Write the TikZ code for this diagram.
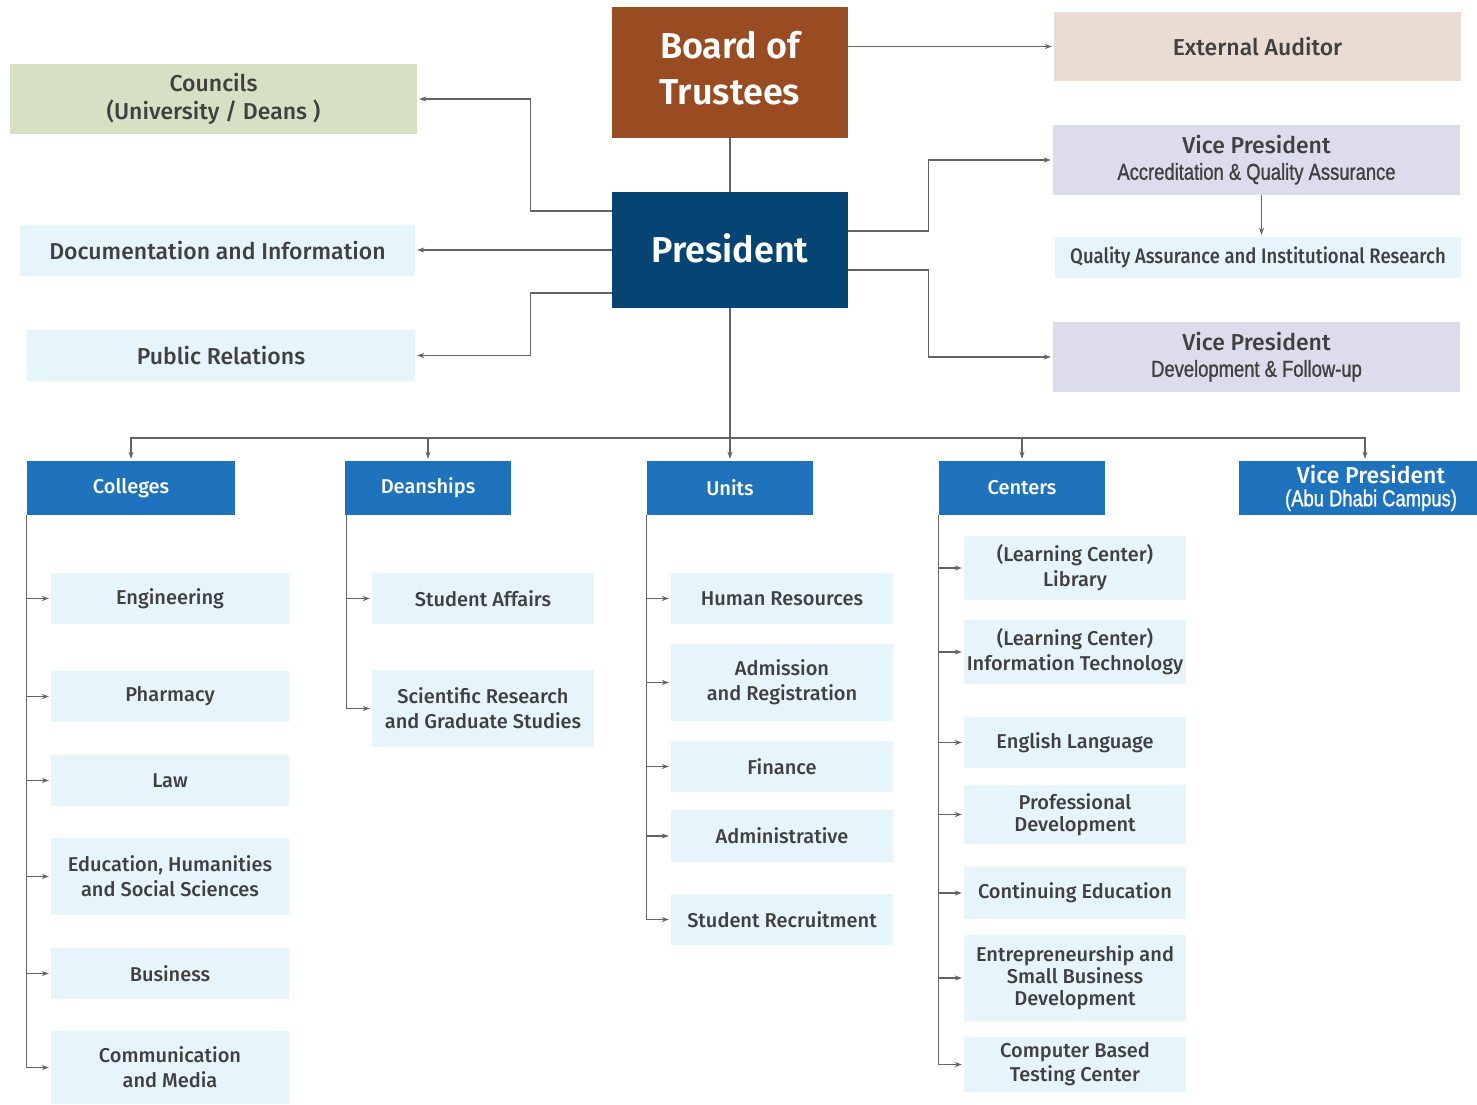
\documentclass[tikz,border=0pt]{standalone}
\usepackage{fontspec}
\setmainfont{Fira Sans}[UprightFont=* Medium, BoldFont=* SemiBold]
\newfontfamily\narrowfont{Liberation Sans}[FakeStretch=0.8, FakeBold=1]
\newfontfamily\condfont{Fira Sans}[UprightFont=* Medium, FakeStretch=0.88]
\usetikzlibrary{arrows.meta}
\definecolor{brownbox}{RGB}{153,76,34}
\definecolor{navybox}{RGB}{6,68,116}
\definecolor{headbox}{RGB}{31,115,189}
\definecolor{auditbox}{RGB}{234,220,210}
\definecolor{councilbox}{RGB}{213,224,196}
\definecolor{vpbox}{RGB}{221,220,236}
\definecolor{unitbox}{RGB}{230,244,252}
\definecolor{textgrey}{RGB}{64,64,64}
\definecolor{linegrey}{RGB}{100,100,100}
\begin{document}
\begin{tikzpicture}[x=1pt,y=-1pt,
    sz/.style 2 args={minimum width=#1,minimum height=#2},
    top/.style={inner sep=0pt,align=center,text=white,font=\bfseries\fontsize{36}{46}\selectfont},
    side/.style={inner sep=0pt,align=center,text=textgrey,font=\fontsize{23}{28}\selectfont},
    head/.style={fill=headbox,inner sep=0pt,align=center,text=white,font=\fontsize{20}{25}\selectfont},
    unit/.style={fill=unitbox,inner sep=0pt,align=center,text=textgrey,font=\fontsize{20}{25}\selectfont},
    link/.style={draw=linegrey,line width=1.2pt},
    arr/.style={link,-{Stealth[length=7pt,width=5pt]},shorten >=2pt}]
  \useasboundingbox (0,0) rectangle (1477,1105);
  \draw
    (730,72.5) node[top,fill=brownbox,sz={236}{131}] (board){\raisebox{4pt}{\begin{tabular}{@{}c@{}}Board of\\Trustees\end{tabular}}}
    (730,250) node[top,fill=navybox,sz={236}{116}] (pres){\raisebox{4pt}{President}}
    (1257.5,46.5) node[side,fill=auditbox,sz={407}{69}] (aud){External Auditor}
    (213.5,99) node[side,fill=councilbox,sz={407}{70}] (coun){Councils\\(University / Deans )}
    (217.5,250.5) node[side,fill=unitbox,sz={395}{51}] (doc){Documentation and Information}
    (221,355.5) node[side,fill=unitbox,sz={388}{51}] (pr){Public Relations}
    (1256.5,160) node[side,fill=vpbox,sz={407}{70}] (vpacc){Vice President\\[-2pt]{\narrowfont\fontsize{23}{26}\selectfont Accreditation \& Quality Assurance}}
    (1258,257.5) node[side,fill=unitbox,sz={406}{41}] (qa){\condfont\fontsize{21}{25}\selectfont Quality Assurance and Institutional Research}
    (1256.5,357) node[side,fill=vpbox,sz={407}{70}] (vpdev){Vice President\\[-2pt]{\narrowfont\fontsize{23}{26}\selectfont Development \& Follow-up}};
  \draw
    (131,488) node[head,sz={208}{54}] (col){Colleges}
    (428,488) node[head,sz={166}{54}] (dean){Deanships}
    (730,488) node[head,sz={166}{54}] (units){Units}
    (1022,488) node[head,sz={166}{54}] (cent){Centers}
    (1371,488) node[head,sz={264}{54},font=\fontsize{23}{26}\selectfont] (vpad){Vice President\\[-3pt]{\narrowfont\fontsize{23}{26}\selectfont (Abu Dhabi Campus)}};
  \draw
    (170,598.5) node[unit,sz={238}{51}] (eng){Engineering}
    (170,696.5) node[unit,sz={238}{51}] (pharm){Pharmacy}
    (170,780.5) node[unit,sz={238}{51}] (law){Law}
    (170,876.5) node[unit,sz={238}{77}] (edu){Education, Humanities\\and Social Sciences}
    (170,973.5) node[unit,sz={238}{51}] (busi){Business}
    (170,1067.5) node[unit,sz={238}{73}] (comm){Communication\\and Media}
    (483,598.5) node[unit,sz={222}{51}] (stud){Student Affairs}
    (483,708.5) node[unit,sz={222}{77}] (sci){Scientific Research\\and Graduate Studies}
    (782,598.5) node[unit,sz={222}{51}] (hr){Human Resources}
    (782,682.5) node[unit,sz={222}{77}] (adm){Admission\\and Registration}
    (782,766.5) node[unit,sz={222}{51}] (fin){Finance}
    (782,836) node[unit,sz={222}{52}] (admin){Administrative}
    (782,919.5) node[unit,sz={222}{51}] (recr){Student Recruitment}
    (1075,568) node[unit,sz={222}{64}] (lib){(Learning Center)\\Library}
    (1075,652) node[unit,sz={222}{64}] (it){(Learning Center)\\Information Technology}
    (1075,742.5) node[unit,sz={222}{51}] (lang){English Language}
    (1075,814.5) node[unit,sz={222}{59},font=\fontsize{20}{22}\selectfont] (prof){Professional\\Development}
    (1075,893) node[unit,sz={222}{52}] (cont){Continuing Education}
    (1075,978) node[unit,sz={222}{86},font=\fontsize{20}{22}\selectfont] (entr){Entrepreneurship and\\Small Business\\Development}
    (1075,1064.5) node[unit,sz={222}{55},font=\fontsize{20}{24}\selectfont] (cbt){Computer Based\\Testing Center};
  \coordinate (hub) at (730,438);
  \begin{scope}[arr]
    \draw (board.east |- aud.west) to (aud.west);
    \draw ([yshift=39pt]pres.west) -- ++(-81,0) |- (coun);
    \draw (pres.west) to (pres.west -| doc.east);
    \draw ([yshift=-43pt]pres.west) -- ++(-81,0) |- (pr);
    \draw ([yshift=19pt]pres.east) -- ++(80,0) |- (vpacc);
    \draw ([yshift=-20pt]pres.east) -- ++(80,0) |- (vpdev);
    \draw ([xshift=5pt]vpacc.south) to ([xshift=5pt]vpacc.south |- qa.north);
    \draw (hub) -| (col);
    \draw (hub) -| (dean);
    \draw (hub) -| (units);
    \draw (hub) -| (cent);
    \draw (hub) -| ([xshift=-6pt]vpad.north);
    \draw (col.south west) |- (eng);
    \draw (col.south west) |- (pharm);
    \draw (col.south west) |- (law);
    \draw (col.south west) |- (edu);
    \draw (col.south west) |- (busi);
    \draw (col.south west) |- (comm);
    \draw ([xshift=2pt]dean.south west) |- (stud);
    \draw ([xshift=2pt]dean.south west) |- (sci);
    \draw (units.south west) |- (hr);
    \draw (units.south west) |- (adm);
    \draw (units.south west) |- (fin);
    \draw (units.south west) |- (admin);
    \draw (units.south west) |- (recr);
    \draw (cent.south west) |- (lib);
    \draw (cent.south west) |- (it);
    \draw (cent.south west) |- (lang);
    \draw (cent.south west) |- (prof);
    \draw (cent.south west) |- (cont);
    \draw (cent.south west) |- (entr);
    \draw (cent.south west) |- (cbt);
  \end{scope}
  \begin{scope}[link]
    \draw (board) to (pres);
    \draw (pres) to (hub);
  \end{scope}
\end{tikzpicture}
\end{document}
